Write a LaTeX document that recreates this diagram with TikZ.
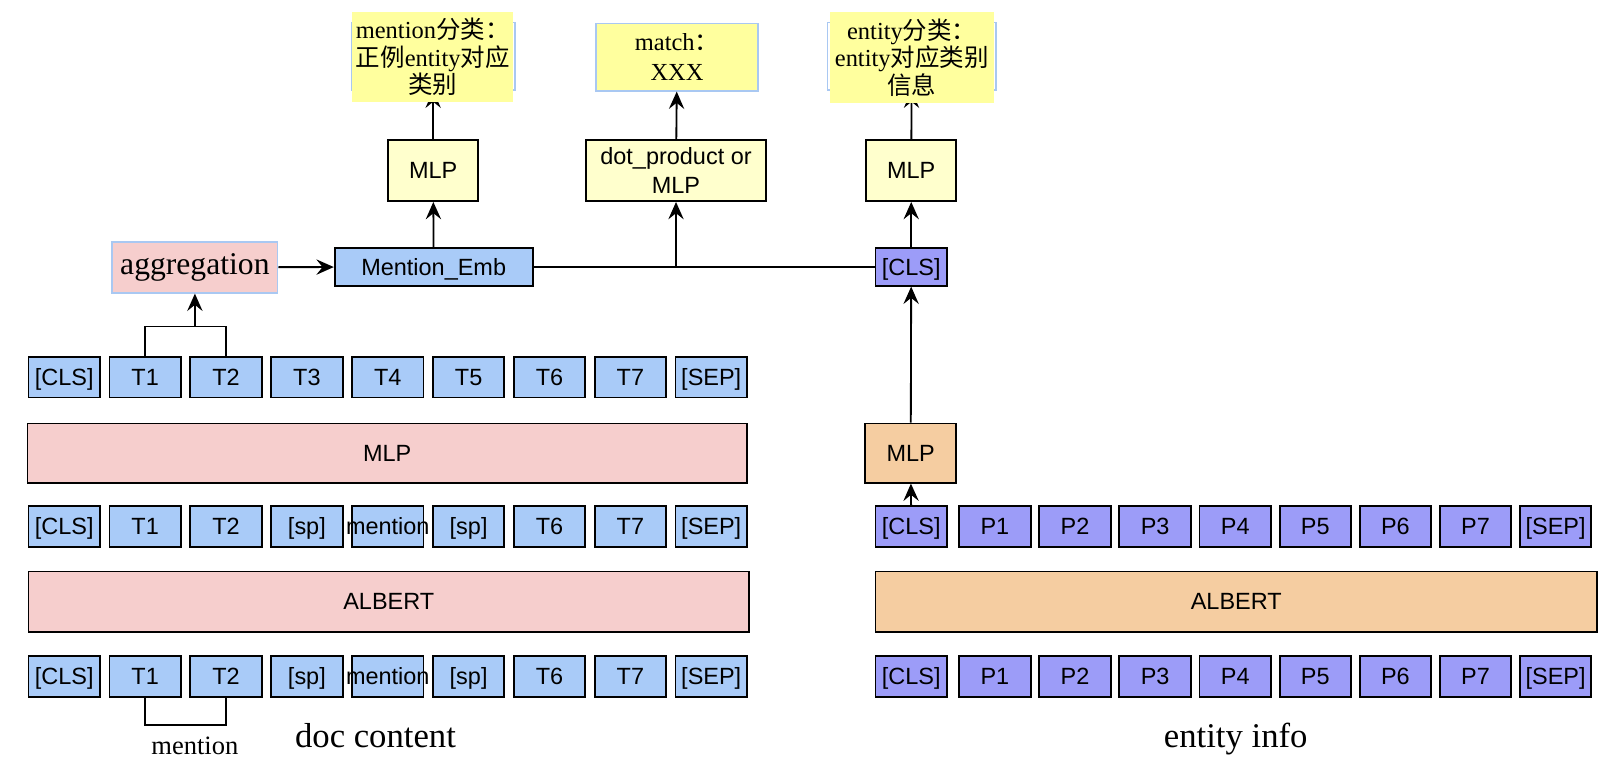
\documentclass[tikz,border=0pt]{standalone}
\usepackage{fontspec}
\setmainfont{Liberation Serif}
\setsansfont{Liberation Sans}
\newfontfamily\cjk{Noto Sans CJK SC}
\usepackage{tikz}
\usetikzlibrary{arrows.meta, positioning}

\definecolor{tokblue}{HTML}{A9CBF8}
\definecolor{tokpurple}{HTML}{9C9CF8}
\definecolor{albpink}{HTML}{F6CECD}
\definecolor{alborange}{HTML}{F5CDA1}
\definecolor{mlpyellow}{HTML}{FFFFCD}
\definecolor{labelyellow}{HTML}{FFFF9E}
\definecolor{edgeblue}{HTML}{A9C8F2}

\begin{document}
\begin{tikzpicture}[
    x=1pt, y=-1pt,
    node distance=7.45pt,
    tok/.style={rectangle, draw, line width=1.8pt, fill=tokblue, minimum width=70pt, minimum height=40pt, inner sep=0pt, text height=16.5pt, text depth=0pt, font=\sffamily\fontsize{23}{26}\selectfont},
    ptok/.style={tok, fill=tokpurple},
    encoder/.style={rectangle, draw, line width=1.8pt, fill=albpink, minimum width=706pt, minimum height=59pt, text height=16.5pt, text depth=0pt, font=\sffamily\fontsize{23}{26}\selectfont},
    head/.style={rectangle, draw, line width=1.8pt, fill=mlpyellow, minimum width=88pt, minimum height=60pt, inner sep=0pt, align=center, font=\sffamily\fontsize{23}{28}\selectfont},
    task/.style={rectangle, draw=edgeblue, line width=1.5pt, minimum width=160pt, minimum height=66pt, inner sep=0pt},
    tasklabel/.style={fill=labelyellow, align=center, inner sep=0pt, font=\fontsize{24}{27}\selectfont},
    arrow/.style={line width=1.8pt, -{Stealth[length=17pt, width=15pt, inset=6pt]}},
    link/.style={line width=1.8pt}
]
\useasboundingbox (0,0) rectangle (1568,743);

% doc content: input tokens
\node[tok] (icls) at (63,663) {[CLS]};
\node[tok, right=of icls] (i1) {T1};
\node[tok, right=of i1] (i2) {T2};
\node[tok, right=of i2] (isp1) {[sp]};
\node[tok, right=of isp1] (iment) {\makebox[0pt]{mention}};
\node[tok, right=of iment] (isp2) {[sp]};
\node[tok, right=of isp2] (i6) {T6};
\node[tok, right=of i6] (i7) {T7};
\node[tok, right=of i7] (isep) {[SEP]};

\node[encoder] (talbert) at (381,589.5) {ALBERT};

% doc content: encoder output
\node[tok] (ecls) at (63,516) {[CLS]};
\node[tok, right=of ecls] (e1) {T1};
\node[tok, right=of e1] (e2) {T2};
\node[tok, right=of e2] (esp1) {[sp]};
\node[tok, right=of esp1] (ement) {\makebox[0pt]{mention}};
\node[tok, right=of ement] (esp2) {[sp]};
\node[tok, right=of esp2] (e6) {T6};
\node[tok, right=of e6] (e7) {T7};
\node[tok, right=of e7] (esep) {[SEP]};

\node[encoder, minimum width=705pt, minimum height=58pt] (tmlp) at (379.5,444) {MLP};

% doc content: token outputs
\node[tok] (tcls) at (63,369.5) {[CLS]};
\node[tok, right=of tcls] (t1) {T1};
\node[tok, right=of t1] (t2) {T2};
\node[tok, right=of t2] (t3) {T3};
\node[tok, right=of t3] (t4) {T4};
\node[tok, right=of t4] (t5) {T5};
\node[tok, right=of t5] (t6) {T6};
\node[tok, right=of t6] (t7) {T7};
\node[tok, right=of t7] (tsep) {[SEP]};

% entity info: input tokens
\node[ptok] (qcls) at (893,663) {[CLS]};
\node[ptok, right=10.2pt of qcls] (q1) {P1};
\node[ptok, right=6.7pt of q1] (q2) {P2};
\node[ptok, right=6.7pt of q2] (q3) {P3};
\node[ptok, right=6.7pt of q3] (q4) {P4};
\node[ptok, right=6.7pt of q4] (q5) {P5};
\node[ptok, right=6.7pt of q5] (q6) {P6};
\node[ptok, right=6.7pt of q6] (q7) {P7};
\node[ptok, right=6.7pt of q7] (qsep) {[SEP]};

\node[encoder, fill=alborange, minimum width=707pt] (palbert) at (1211.5,589.5) {ALBERT};

% entity info: encoder output
\node[ptok] (pcls) at (893,516) {[CLS]};
\node[ptok, right=10.2pt of pcls] (p1) {P1};
\node[ptok, right=6.7pt of p1] (p2) {P2};
\node[ptok, right=6.7pt of p2] (p3) {P3};
\node[ptok, right=6.7pt of p3] (p4) {P4};
\node[ptok, right=6.7pt of p4] (p5) {P5};
\node[ptok, right=6.7pt of p5] (p6) {P6};
\node[ptok, right=6.7pt of p6] (p7) {P7};
\node[ptok, right=6.7pt of p7] (psep) {[SEP]};

\node[encoder, fill=alborange, minimum width=89pt, minimum height=58pt] (pmlp) at (892.5,444) {MLP};

% embeddings
\node[rectangle, draw=edgeblue, line width=1.5pt, fill=albpink, minimum width=162pt, minimum height=50pt, inner sep=0pt, font=\fontsize{31}{34}\selectfont] (agg) at (191,262) {aggregation};
\node[tok, minimum width=194pt, minimum height=37pt] (emb) at (425,261.5) {Mention\_Emb};
\node[ptok, minimum height=37pt] (topcls) at (893,261.5) {[CLS]};

% heads
\node[head] (mlpa) at (424.5,167) {MLP};
\node[head, minimum width=177pt] (dot) at (662.5,167) {dot\_product or\\MLP};
\node[head] (mlpc) at (893,167) {MLP};

% tasks
\node[task] (mtask) at (424.5,55) {};
\node[task, fill=labelyellow, minimum width=159pt, align=center, font=\fontsize{24}{30}\selectfont] (matchtask) at (663.5,56) {match{\cjk ：}\\XXX};
\node[task, minimum width=165pt] (etask) at (893.5,55) {};

% arrows
\coordinate (fork) at (agg.south |- 0,320);
\draw[link] (t1.north) |- (fork) -| (t2.north);
\draw[arrow] (fork) -- (agg);
\draw[link] (i1.south) -- ++(0,27) -| (i2.south);
\draw[arrow] (agg) -- (emb);
\draw[arrow] (emb) -- (mlpa);
\draw[arrow] (mlpa) -- (mtask);
\draw[arrow] (emb.east) -| (dot.south);
\coordinate (join) at (dot.south |- topcls.west);
\draw[link] (topcls.west) -- (join);
\draw[arrow] (dot) -- (matchtask);
\draw[arrow] (pcls) -- (pmlp);
\draw[arrow] (pmlp) -- (topcls);
\draw[arrow] (topcls) -- (mlpc);
\draw[arrow] (mlpc) -- (etask);

% task labels
\node[tasklabel, minimum width=158pt, minimum height=88pt] (mlabel) at (424,56) {mention{\cjk 分类：}\\{\cjk 正例}entity{\cjk 对应}\\{\cjk 类别}};
\node[tasklabel, minimum width=161pt, minimum height=89pt] (elabel) at (893.5,56.5) {entity{\cjk 分类：}\\entity{\cjk 对应类别}\\{\cjk 信息}};

% captions
\node[anchor=base, font=\fontsize{26}{30}\selectfont] (mentionlbl) at (191,739) {mention};
\node[anchor=base, font=\fontsize{34}{40}\selectfont] (doclbl) at (368,733) {doc content};
\node[anchor=base, font=\fontsize{34}{40}\selectfont] (entlbl) at (1211,733) {entity info};

\end{tikzpicture}
\end{document}
